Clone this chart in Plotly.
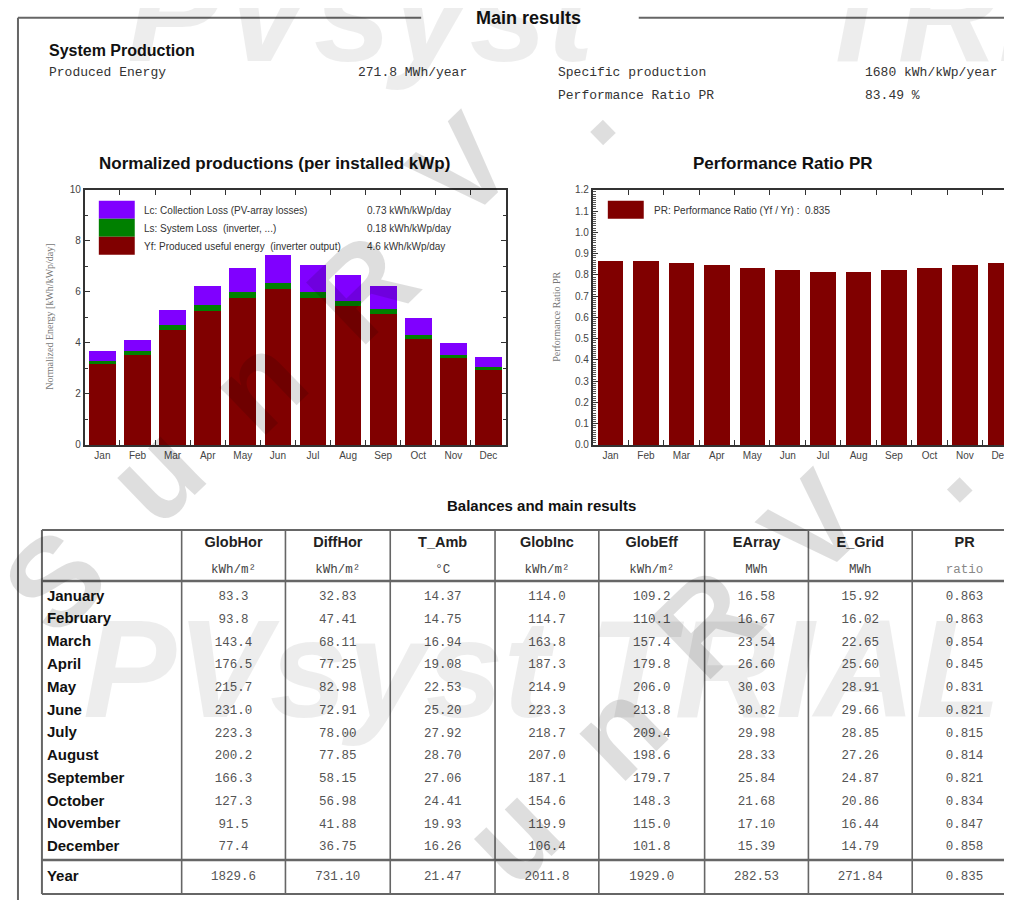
import plotly.graph_objects as go

W, H = 1012, 900

# ---------------- data ----------------
months_short = ["Jan", "Feb", "Mar", "Apr", "May", "Jun", "Jul", "Aug", "Sep", "Oct", "Nov", "Dec"]
months_long = ["January", "February", "March", "April", "May", "June", "July",
               "August", "September", "October", "November", "December"]

# Normalized productions (kWh/kWp/day)
yf = [3.17, 3.54, 4.52, 5.27, 5.76, 6.11, 5.75, 5.43, 5.12, 4.16, 3.39, 2.95]
ls = [0.13, 0.14, 0.18, 0.21, 0.22, 0.24, 0.23, 0.21, 0.20, 0.16, 0.14, 0.12]
lc = [0.37, 0.42, 0.59, 0.76, 0.95, 1.09, 1.08, 1.03, 0.91, 0.67, 0.47, 0.36]

# Balances table
globhor = [83.3, 93.8, 143.4, 176.5, 215.7, 231.0, 223.3, 200.2, 166.3, 127.3, 91.5, 77.4]
diffhor = [32.83, 47.41, 68.11, 77.25, 82.98, 72.91, 78.00, 77.85, 58.15, 56.98, 41.88, 36.75]
t_amb = [14.37, 14.75, 16.94, 19.08, 22.53, 25.20, 27.92, 28.70, 27.06, 24.41, 19.93, 16.26]
globinc = [114.0, 114.7, 163.8, 187.3, 214.9, 223.3, 218.7, 207.0, 187.1, 154.6, 119.9, 106.4]
globeff = [109.2, 110.1, 157.4, 179.8, 206.0, 213.8, 209.4, 198.6, 179.7, 148.3, 115.0, 101.8]
earray = [16.58, 16.67, 23.54, 26.60, 30.03, 30.82, 29.98, 28.33, 25.84, 21.68, 17.10, 15.39]
e_grid = [15.92, 16.02, 22.65, 25.60, 28.91, 29.66, 28.85, 27.26, 24.87, 20.86, 16.44, 14.79]
pr = [0.863, 0.863, 0.854, 0.845, 0.831, 0.821, 0.815, 0.814, 0.821, 0.834, 0.847, 0.858]
year_totals = [1829.6, 731.10, 21.47, 2011.8, 1929.0, 282.53, 271.84, 0.835]

col_names = ["GlobHor", "DiffHor", "T_Amb", "GlobInc", "GlobEff", "EArray", "E_Grid", "PR"]
col_units = ["kWh/m²", "kWh/m²", "°C", "kWh/m²", "kWh/m²", "MWh", "MWh", "ratio"]
col_values = [globhor, diffhor, t_amb, globinc, globeff, earray, e_grid, pr]
col_formats = ["{:.1f}", "{:.2f}", "{:.2f}", "{:.1f}", "{:.1f}", "{:.2f}", "{:.2f}", "{:.3f}"]

legend_left = [
    ("Lc: Collection Loss (PV-array losses)", "0.73 kWh/kWp/day"),
    ("Ls: System Loss  (inverter, ...)", "0.18 kWh/kWp/day"),
    ("Yf: Produced useful energy  (inverter output)", "4.6 kWh/kWp/day"),
]
legend_right = "PR: Performance Ratio (Yf / Yr) :  0.835"

# ---------------- layout helpers (target-picture pixels -> paper) ----------------
OX, OY, SY = 8.0, 12.2, 0.9886


def X(px):
    return (px - OX) / W


def Y(py):
    return 1 - ((py - OY) / SY) / H


C_YF, C_LS, C_LC = "#800000", "#008000", "#8000ff"
SANS = "Liberation Sans, Arial, sans-serif"
MONO = "Liberation Mono, Courier New, monospace"
SERIF = "Liberation Serif, Times New Roman, serif"
AX = "#333333"

fig = go.Figure()

# ---------------- charts ----------------
fig.add_trace(go.Bar(x=months_short, y=yf, marker_color=C_YF, width=0.76,
                     marker_line_width=0, xaxis="x", yaxis="y", showlegend=False))
fig.add_trace(go.Bar(x=months_short, y=ls, marker_color=C_LS, width=0.76,
                     marker_line_width=0, xaxis="x", yaxis="y", showlegend=False))
fig.add_trace(go.Bar(x=months_short, y=lc, marker_color=C_LC, width=0.76,
                     marker_line_width=0, xaxis="x", yaxis="y", showlegend=False))
fig.add_trace(go.Bar(x=months_short, y=pr, marker_color=C_YF, width=0.72,
                     marker_line_width=0, xaxis="x2", yaxis="y2", showlegend=False))

# ---------------- table (pixel-space hidden axes) ----------------
col_edges = [42, 182, 286, 391, 496, 600, 706, 810, 914, 1019]
col_centers = [(col_edges[i] + col_edges[i + 1]) / 2 for i in range(1, len(col_edges) - 1)]
row_y = [596 + 22.75 * i for i in range(12)]
year_y = 876

fig.add_trace(go.Scatter(x=[47] * 13, y=row_y + [year_y], text=months_long + ["Year"],
                         mode="text", textposition="middle right",
                         textfont=dict(family=SANS, size=15, color="#111", weight="bold"),
                         xaxis="x3", yaxis="y3", showlegend=False, cliponaxis=False,
                         hoverinfo="skip"))
fig.add_trace(go.Scatter(x=col_centers, y=[542] * 8, text=col_names, mode="text",
                         textposition="middle center",
                         textfont=dict(family=SANS, size=14.5, color="#222", weight="bold"),
                         xaxis="x3", yaxis="y3", showlegend=False, cliponaxis=False,
                         hoverinfo="skip"))
fig.add_trace(go.Scatter(x=col_centers, y=[569] * 8, text=col_units, mode="text",
                         textposition="middle center",
                         textfont=dict(family=MONO, size=12.5,
                                       color=["#444"] * 7 + ["#888"]),
                         xaxis="x3", yaxis="y3", showlegend=False, cliponaxis=False,
                         hoverinfo="skip"))
for cx, vals, fmt, tot in zip(col_centers, col_values, col_formats, year_totals):
    fig.add_trace(go.Scatter(x=[cx] * 13, y=row_y + [year_y],
                             text=[fmt.format(v) for v in vals] + [fmt.format(tot)],
                             mode="text", textposition="middle center",
                             textfont=dict(family=MONO, size=12.5, color="#555"),
                             xaxis="x3", yaxis="y3", showlegend=False, cliponaxis=False,
                             hoverinfo="skip"))

common_x = dict(type="category", showline=True, linecolor=AX, linewidth=2, mirror="ticks",
                ticks="inside", tickson="boundaries", ticklen=5, tickcolor=AX, tickwidth=1.2,
                showgrid=False, zeroline=False,
                tickfont=dict(family=SANS, size=10, color="#444"))
common_y = dict(showline=True, linecolor=AX, linewidth=2, mirror="ticks",
                ticks="inside", ticklen=5, tickcolor=AX, tickwidth=1.2,
                showgrid=False, zeroline=False,
                tickfont=dict(family=SANS, size=10, color="#444"))

fig.update_layout(
    width=W, height=H,
    margin=dict(l=0, r=0, t=0, b=0),
    paper_bgcolor="white", plot_bgcolor="rgba(0,0,0,0)",
    barmode="stack",
    xaxis=dict(common_x, domain=[X(85), X(507)], range=[-0.5, 11.5], anchor="y"),
    yaxis=dict(common_y, domain=[Y(444), Y(189)], range=[0, 10], dtick=2, tick0=0,
               minor=dict(dtick=1, ticks="inside", ticklen=3, tickcolor=AX), anchor="x"),
    xaxis2=dict(common_x, domain=[X(594), 1.0], range=[-0.5, 11.5], anchor="y2"),
    yaxis2=dict(common_y, domain=[Y(444), Y(189)], range=[0, 1.2], dtick=0.1, tick0=0,
                tickformat=".1f",
                minor=dict(dtick=0.01, ticks="inside", ticklen=3, tickcolor="#555"),
                anchor="x2"),
    xaxis3=dict(domain=[0, 1], range=[OX, OX + W], visible=False, fixedrange=True, anchor="y3"),
    yaxis3=dict(domain=[0, 1], range=[OY + SY * H, OY], visible=False, fixedrange=True, anchor="x3"),
)

shapes = []
LINE = "#666666"
# page frame
shapes.append(dict(type="line", xref="paper", yref="paper", x0=X(18), x1=X(422), y0=Y(17), y1=Y(17),
                   line=dict(color=LINE, width=2)))
shapes.append(dict(type="line", xref="paper", yref="paper", x0=X(640), x1=1.0, y0=Y(17), y1=Y(17),
                   line=dict(color=LINE, width=2)))
shapes.append(dict(type="line", xref="paper", yref="paper", x0=X(18), x1=X(18), y0=Y(17), y1=0,
                   line=dict(color=LINE, width=2)))
# table
for yy, lw in [(529, 2), (580, 2.5), (859, 2.5), (893, 2)]:
    shapes.append(dict(type="line", xref="paper", yref="paper", x0=X(42), x1=1.0, y0=Y(yy), y1=Y(yy),
                       line=dict(color=LINE, width=lw)))
for xx in col_edges[:-1]:
    shapes.append(dict(type="line", xref="paper", yref="paper", x0=X(xx), x1=X(xx), y0=Y(529), y1=Y(893),
                       line=dict(color=LINE, width=2 if xx == 42 else 1.6)))
# left legend swatches
for (y0, y1), c in zip([(200, 218), (218, 236), (236, 254)], [C_LC, C_LS, C_YF]):
    shapes.append(dict(type="rect", xref="paper", yref="paper", x0=X(99), x1=X(135), y0=Y(y1), y1=Y(y0),
                       fillcolor=c, line=dict(width=0)))
# right legend swatch
shapes.append(dict(type="rect", xref="paper", yref="paper", x0=X(609), x1=X(645), y0=Y(218), y1=Y(200),
                   fillcolor=C_YF, line=dict(width=0)))

ann = []


def text(x, y, s, size, family=SANS, color="#111", xanchor="left", bold=False, angle=0):
    ann.append(dict(x=X(x), y=Y(y), xref="paper", yref="paper", text=("<b>%s</b>" % s) if bold else s,
                    showarrow=False, xanchor=xanchor, yanchor="middle", textangle=angle,
                    font=dict(family=family, size=size, color=color)))


text(530, 17, "Main results", 18, xanchor="center", bold=True)
text(47, 50, "System Production", 16, bold=True)
text(47, 72, "Produced Energy", 13, family=MONO, color="#333")
text(357, 72, "271.8 MWh/year", 13, family=MONO, color="#333")
text(557, 72, "Specific production", 13, family=MONO, color="#333")
text(865, 72, "1680 kWh/kWp/year", 13, family=MONO, color="#333")
text(557, 95, "Performance Ratio PR", 13, family=MONO, color="#333")
text(865, 95, "83.49 %", 13, family=MONO, color="#333")

text(275, 163, "Normalized productions (per installed kWp)", 17, xanchor="center", bold=True)
text(785, 163, "Performance Ratio PR", 17, xanchor="center", bold=True)
text(543, 505, "Balances and main results", 15, xanchor="center", bold=True)

text(50, 316, "Normalized Energy [kWh/kWp/day]", 10, family=SERIF, color="#777", xanchor="center", angle=-90)
text(558, 316, "Performance Ratio PR", 10, family=SERIF, color="#777", xanchor="center", angle=-90)

for (lab, val), yy in zip(legend_left, [210, 228, 246]):
    text(142, yy, lab, 10, color="#333")
    text(366, yy, val, 10, color="#333")
text(653, 210, legend_right, 10, color="#333")

# watermarks
WM = "rgba(0,0,0,0.07)"
ann.append(dict(x=X(125), y=Y(12), xref="paper", yref="paper", text="<b>PVsyst</b>", showarrow=False,
                xanchor="left", yanchor="middle",
                font=dict(family=SANS, size=140, color=WM, style="italic")))
ann.append(dict(x=X(812), y=Y(12), xref="paper", yref="paper", text="<b>TRIAL</b>", showarrow=False,
                xanchor="left", yanchor="middle",
                font=dict(family=SANS, size=140, color=WM, style="italic")))
ann.append(dict(x=X(543), y=Y(668), xref="paper", yref="paper", text="<b>PVsyst TRIAL</b>", showarrow=False,
                xanchor="center", yanchor="middle",
                font=dict(family=SANS, size=140, color=WM, style="italic")))

DG = "rgba(0,0,0,0.13)"
diag_letters = [("S", 55, 580), ("u", 155, 473), ("n", 257, 383), ("R", 363, 287), ("V", 462, 167),
                (".", 581, 107),
                ("u", 512, 833), ("n", 617, 728), ("R", 708, 622), ("V", 815, 524), (".", 938, 465)]
for ch, cx, cy in diag_letters:
    ann.append(dict(x=X(cx), y=Y(cy), xref="paper", yref="paper", text="<b>%s</b>" % ch, showarrow=False,
                    xanchor="center", yanchor="middle", textangle=-44,
                    font=dict(family=SANS, size=125, color=DG)))

fig.update_layout(shapes=shapes, annotations=ann)
fig.write_html("out.html")
